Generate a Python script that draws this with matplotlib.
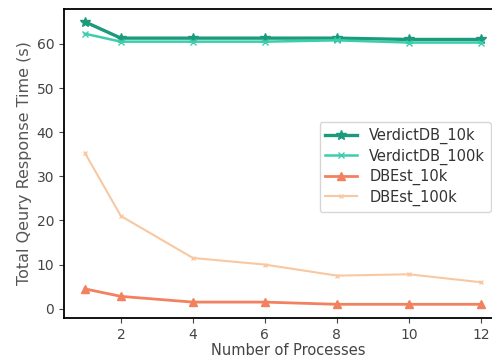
import numpy as np
import matplotlib
matplotlib.use("Agg")
import matplotlib.pyplot as plt

procs = [1, 2, 4, 6, 8, 10, 12]
verdict_10k = [65.0, 61.3, 61.3, 61.3, 61.3, 61.0, 61.0]
verdict_100k = [62.3, 60.5, 60.5, 60.5, 60.8, 60.3, 60.3]
dbest_10k = [4.5, 2.8, 1.5, 1.5, 1.0, 1.0, 1.0]
dbest_100k = [35.3, 21.0, 11.5, 10.0, 7.5, 7.8, 6.0]

fig = plt.figure(figsize=(4.92, 3.59), dpi=100)
# right spine falls just outside the picture, like the cropped original
ax = fig.add_axes([64/492, 41/359, 448/492, 309/359])

ax.plot(procs, verdict_10k, color="#1b9b7c", marker="*", markersize=7, lw=2.4, label="VerdictDB_10k")
ax.plot(procs, verdict_100k, color="#3ccdac", marker="x", markersize=5, lw=1.8, label="VerdictDB_100k")
ax.plot(procs, dbest_10k, color="#f2815f", marker="^", markersize=6, lw=2.0, label="DBEst_10k")
ax.plot(procs, dbest_100k, color="#f8c8a2", marker="x", markersize=3, lw=1.5, label="DBEst_100k")

ax.set_xlim(0.42, 0.42 + 448/36)
ax.set_ylim(-2.1, 67.9)
ax.set_xticks([2, 4, 6, 8, 10, 12])
ax.set_yticks([0, 10, 20, 30, 40, 50, 60])
ax.tick_params(labelsize=10, colors="#444444")
ax.set_xlabel("Number of Processes", fontsize=10.5, color="#444444", labelpad=1)
ax.set_ylabel("Total Qeury Response Time (s)", fontsize=11.5, color="#555555", labelpad=3)
for s in ax.spines.values():
    s.set_linewidth(1.3)

ax.legend(loc="upper right", bbox_to_anchor=(491/492, 1 - 122/359), bbox_transform=fig.transFigure,
          borderaxespad=0, fontsize=10.5, frameon=True, edgecolor="#cccccc", labelcolor="#333333",
          handlelength=2.2, labelspacing=0.3)

fig.savefig("out.png", dpi=100)
